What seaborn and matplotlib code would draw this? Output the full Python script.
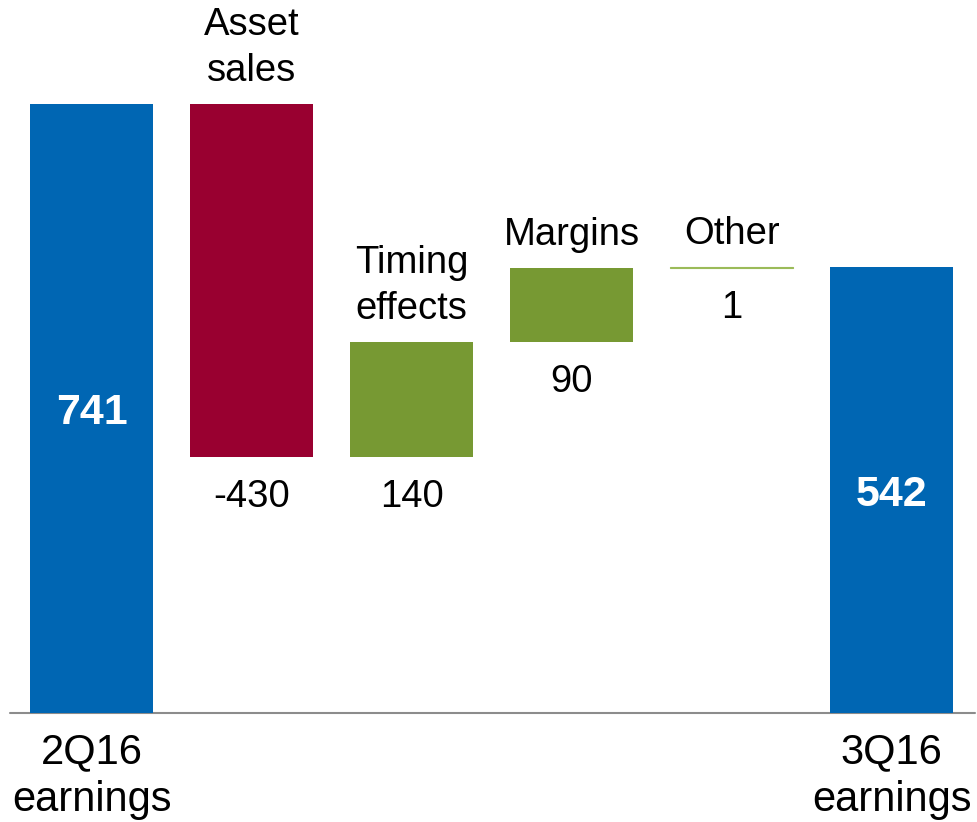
import matplotlib
matplotlib.use('Agg')
import matplotlib.pyplot as plt
import matplotlib.transforms as mtransforms
import seaborn as sns
import pandas as pd

# %%
steps = ['2Q16\nearnings', 'Asset\nsales', 'Timing\neffects', 'Margins', 'Other', '3Q16\nearnings']
values = [741, -430, 140, 90, 1, 542]
kinds = ['total', 'down', 'up', 'up', 'up', 'total']
colors = {'total': '#0066B3', 'down': '#990030', 'up': '#779933'}

# %%
# waterfall: floating bars start where the running total is
bottoms, heights = [], []
running = 0
for v, k in zip(values, kinds):
    if k == 'total':
        bottoms.append(0)
        heights.append(v)
        running = v
    else:
        bottoms.append(running)
        heights.append(v)
        running += v

df = pd.DataFrame({'step': steps, 'height': heights, 'bottom': bottoms, 'kind': kinds})

# %%
sns.set_theme(style='white')
plt.rcParams['font.family'] = ['Liberation Sans', 'DejaVu Sans']

fig = plt.figure(figsize=(9.78, 8.22), dpi=100)
ax = fig.add_axes([0, 0, 1, 1])

sns.barplot(data=df, x='step', y='height', bottom=df['bottom'].values,
            color=colors['total'], width=0.77, errorbar=None, linewidth=0, ax=ax)
for patch, k, h in zip(ax.patches, df['kind'], df['height']):
    patch.set_facecolor(colors[k])
    if abs(h) < 5:
        # tiny step shows up only as a thin line
        patch.set_edgecolor('#9BBB59')
        patch.set_linewidth(0.8)
    else:
        patch.set_edgecolor('none')

ax.axhline(0, xmin=10 / 978, xmax=975 / 978, color='#8C8C8C', lw=1.5, zorder=0.5)

def shifted(dy):
    return mtransforms.offset_copy(ax.transData, fig=fig, x=0, y=dy, units='dots')

fs = 27.5
for i, row in df.iterrows():
    lo = min(row['bottom'], row['bottom'] + row['height'])
    hi = max(row['bottom'], row['bottom'] + row['height'])
    nlines = row['step'].count('\n') + 1
    if row['kind'] == 'total':
        ax.text(i, (lo + hi) / 2, str(values[i]), ha='center', va='center',
                color='white', fontsize=31, fontweight='bold', transform=shifted(-5))
        ax.text(i, 0, row['step'], ha='center', va='center', fontsize=30,
                color='black', transform=shifted(-63), linespacing=1.26)
    else:
        dy = 56 if nlines == 2 else 33
        ax.text(i, hi, row['step'], ha='center', va='center', fontsize=fs,
                color='black', transform=shifted(dy), linespacing=1.36)
        ax.text(i, lo, str(values[i]), ha='center', va='center', fontsize=fs,
                color='black', transform=shifted(-40))

ax.set_xlim(-0.572, 5.54)
ax.set_ylim(-132.6, 867.4)
ax.axis('off')

fig.savefig('out.png', dpi=100)
